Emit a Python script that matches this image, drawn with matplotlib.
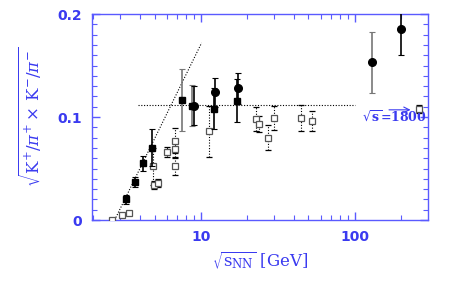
import matplotlib
matplotlib.use("Agg")
import matplotlib.pyplot as plt
from matplotlib.ticker import LogLocator, MultipleLocator, FixedLocator, FixedFormatter, NullFormatter

plt.rcParams["mathtext.fontset"] = "dejavuserif"

# filled squares, black markers
sq_x = [3.24, 3.74, 4.18, 4.79, 7.5, 8.77, 12.1, 17.1]
sq_y = [0.020, 0.037, 0.055, 0.070, 0.1165, 0.111, 0.108, 0.116]
sq_err = [0.004, 0.005, 0.007, 0.018, 0.030, 0.020, 0.020, 0.021]
sq_grey = [False, False, False, False, True, True, False, False]

# filled circles
ci_x = [8.95, 12.4, 17.4, 130, 201]
ci_y = [0.111, 0.124, 0.128, 0.153, 0.185]
ci_err = [0.019, 0.014, 0.015, 0.030, 0.025]
ci_grey = [False, False, False, True, False]

# open squares, dotted error bars
op_x = [2.66, 3.05, 3.42, 4.86, 4.95, 5.28, 5.98, 6.78, 6.78, 6.78, 11.3,
        22.8, 24.0, 27.1, 29.8, 44.4, 52.8, 262]
op_y = [0.0, 0.005, 0.007, 0.052, 0.034, 0.036, 0.066, 0.077, 0.069, 0.052, 0.086,
        0.098, 0.093, 0.080, 0.099, 0.099, 0.096, 0.1075]
op_err = [0.001, 0.002, 0.002, 0.018, 0.004, 0.004, 0.005, 0.012, 0.008, 0.008, 0.025,
          0.012, 0.008, 0.012, 0.012, 0.013, 0.010, 0.004]

# guide lines
diag_x = [2.75, 10.1]
diag_y = [0.0, 0.172]
flat_x = [3.9, 100]
flat_y = [0.112, 0.112]

blue = "#3a3af0"
spine = "#5a5aff"

fig = plt.figure(figsize=(4.6, 2.81), dpi=100)
ax = fig.add_axes([0.2, 0.217, 0.730, 0.733])

ax.plot(diag_x, diag_y, ls=(0, (1, 1.5)), color="k", lw=0.8)
ax.plot(flat_x, flat_y, ls=(0, (1, 1.5)), color="k", lw=0.8)

for x, y, e in zip(op_x, op_y, op_err):
    eb = ax.errorbar(x, y, yerr=e, fmt="s", ms=4.5, mfc="white", mec="#555555", mew=0.9,
                     ecolor="k", elinewidth=0.8, capsize=2, capthick=0.6, zorder=3)
    eb[2][0].set_linestyle((0, (1, 1.5)))

for x, y, e, g in zip(sq_x, sq_y, sq_err, sq_grey):
    c = "#777777" if g else "k"
    ax.errorbar(x, y, yerr=e, fmt="s", ms=4.5, mfc="k", mec="k",
                ecolor=c, elinewidth=1.2, capsize=2.5, capthick=0.8, zorder=4)

for x, y, e, g in zip(ci_x, ci_y, ci_err, ci_grey):
    c = "#777777" if g else "k"
    ax.errorbar(x, y, yerr=e, fmt="o", ms=5.5, mfc="k", mec="k",
                ecolor=c, elinewidth=1.2, capsize=2.5, capthick=0.8, zorder=4)

ax.text(112, 0.100, r"$\sqrt{\mathbf{s}}$=1800", color=blue, fontsize=9,
        fontweight="bold", family="DejaVu Serif", va="center")
ax.annotate("", xy=(240, 0.107), xytext=(160, 0.107),
            arrowprops=dict(arrowstyle="->", color=blue, lw=0.8))

ax.set_xscale("log")
ax.set_xlim(1.96, 298)
ax.set_ylim(0, 0.2)

ax.xaxis.set_major_locator(FixedLocator([10, 100]))
ax.xaxis.set_major_formatter(FixedFormatter(["10", "100"]))
ax.xaxis.set_minor_locator(LogLocator(base=10, subs=range(2, 10)))
ax.xaxis.set_minor_formatter(NullFormatter())
ax.yaxis.set_major_locator(FixedLocator([0, 0.1, 0.2]))
ax.yaxis.set_major_formatter(FixedFormatter(["0", "0.1", "0.2"]))
ax.yaxis.set_minor_locator(MultipleLocator(0.01))

for s in ax.spines.values():
    s.set_color(spine)
    s.set_linewidth(1.0)
ax.tick_params(which="both", direction="in", top=True, right=True,
               color=spine, labelcolor=blue, labelsize=10)
ax.tick_params(which="major", length=6, width=1.0, pad=7)
ax.tick_params(which="minor", length=3.5, width=0.8)
for lab in ax.get_xticklabels() + ax.get_yticklabels():
    lab.set_fontweight("bold")

ax.set_ylabel(r"$\sqrt{\mathrm{K}^{+}/\pi^{+}\times\,\mathrm{K}^{-}/\pi^{-}}$",
              color=blue, fontsize=12, labelpad=10)
ax.set_xlabel(r"$\sqrt{\mathrm{s}_{\mathrm{NN}}}$ [GeV]", color=blue, fontsize=12,
              family="DejaVu Serif", labelpad=4)

fig.savefig("out.png", dpi=100)
